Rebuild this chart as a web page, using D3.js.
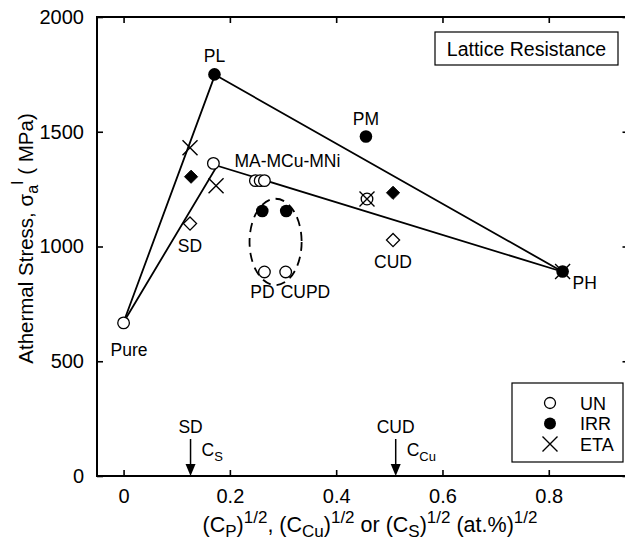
<!DOCTYPE html>
<html><head><meta charset="utf-8">
<script src="https://cdn.jsdelivr.net/npm/d3@7"></script>
<style>body{margin:0;background:#fff}svg{display:block;font-family:"Liberation Sans",Arial,Helvetica,sans-serif}</style>
</head><body><svg id="c" width="625" height="545"></svg>
<script>
// ---- data ----
const xTicks = [0, 0.2, 0.4, 0.6, 0.8];
const yTicks = [0, 500, 1000, 1500, 2000];
const lineHigh = [[0, 670], [0.172, 1748], [0.826, 890]];
const lineLow  = [[0, 670], [0.176, 1352], [0.826, 890]];
const unPoints  = [[0, 667], [0.169, 1362], [0.248, 1287], [0.257, 1287], [0.265, 1287], [0.265, 889], [0.305, 889], [0.458, 1207]];
const irrPoints = [[0.171, 1750], [0.261, 1155], [0.306, 1155], [0.456, 1479], [0.826, 891]];
const etaPoints = [[0.125, 1430], [0.174, 1265], [0.458, 1207], [0.826, 891]];
const irrDiamonds = [[0.127, 1304], [0.507, 1234]];
const unDiamonds  = [[0.125, 1100], [0.507, 1028]];
const pointLabels = [
  {t: "PL", x: 0.171, y: 1750, dx: 0, dy: -12, a: "middle"},
  {t: "PM", x: 0.456, y: 1479, dx: 0, dy: -12, a: "middle"},
  {t: "MA-MCu-MNi", x: 0.169, y: 1362, dx: 21, dy: 4, a: "start"},
  {t: "SD", x: 0.125, y: 1100, dx: 0, dy: 28, a: "middle"},
  {t: "CUD", x: 0.507, y: 1028, dx: 0, dy: 28, a: "middle"},
  {t: "PD", x: 0.265, y: 889, dx: -2, dy: 26, a: "middle"},
  {t: "CUPD", x: 0.305, y: 889, dx: -5, dy: 26, a: "start"},
  {t: "PH", x: 0.826, y: 891, dx: 10, dy: 17, a: "start"},
  {t: "Pure", x: 0, y: 667, dx: -13, dy: 33, a: "start"}
];
const arrows = [{label: "SD", sub: "S", x: 0.126}, {label: "CUD", sub: "Cu", x: 0.512}];
const ellipse = {cx: 0.286, cy: 1020, rx: 0.049, ry: 188};
const legendItems = ["UN", "IRR", "ETA"];

// ---- layout ----
const svg = d3.select("#c");
const L = 97, R = 628.5, T = 17, B = 476;
const x = d3.scaleLinear().domain([-0.05, 0.95]).range([L, R]);
const y = d3.scaleLinear().domain([0, 2000]).range([B, T]);
const FONT = "Liberation Sans, Arial, sans-serif";

// axes (ticks inward)
const tl = 6;
svg.append("g").attr("transform", `translate(0,${B})`)
  .call(d3.axisBottom(x).tickValues(xTicks).tickSize(-tl).tickPadding(tl + 7).tickFormat(d => d === 0 ? "0" : d3.format(".1f")(d)));
svg.append("g").attr("transform", `translate(0,${T})`)
  .call(d3.axisTop(x).tickValues(xTicks).tickSize(-tl).tickFormat(""));
svg.append("g").attr("transform", `translate(${L},0)`)
  .call(d3.axisLeft(y).tickValues(yTicks).tickSize(-tl).tickPadding(tl + 7).tickFormat(d3.format("d")));
svg.append("g").attr("transform", `translate(${R},0)`)
  .call(d3.axisRight(y).tickValues(yTicks).tickSize(-tl).tickFormat(""));
svg.selectAll(".domain").remove();
svg.selectAll(".tick line").attr("stroke", "#000").attr("stroke-width", 1.6);
svg.selectAll(".tick text").attr("font-size", 20).attr("fill", "#000").attr("font-family", FONT);
svg.append("rect").attr("x", L).attr("y", T).attr("width", R - L).attr("height", B - T)
  .attr("fill", "none").attr("stroke", "#000").attr("stroke-width", 2);

// lines
const lg = d3.line().x(d => x(d[0])).y(d => y(d[1]));
[lineHigh, lineLow].forEach(l => svg.append("path").attr("d", lg(l)).attr("fill", "none").attr("stroke", "#000").attr("stroke-width", 1.8));

// ellipse
svg.append("ellipse").attr("cx", x(ellipse.cx)).attr("cy", y(ellipse.cy))
  .attr("rx", x(ellipse.rx) - x(0)).attr("ry", y(0) - y(ellipse.ry))
  .attr("fill", "none").attr("stroke", "#000").attr("stroke-width", 1.8).attr("stroke-dasharray", "9,6");

// markers
const diamond = d3.symbol().type(d3.symbolDiamond2).size(110);
svg.selectAll(".ud").data(unDiamonds).join("path").attr("d", diamond)
  .attr("transform", d => `translate(${x(d[0])},${y(d[1])})`).attr("fill", "#fff").attr("stroke", "#000").attr("stroke-width", 1.3);
svg.selectAll(".id").data(irrDiamonds).join("path").attr("d", diamond)
  .attr("transform", d => `translate(${x(d[0])},${y(d[1])})`).attr("fill", "#000").attr("stroke", "#000").attr("stroke-width", 1);
svg.selectAll(".uc").data(unPoints).join("circle").attr("cx", d => x(d[0])).attr("cy", d => y(d[1])).attr("r", 5.8)
  .attr("fill", "#fff").attr("stroke", "#000").attr("stroke-width", 1.3);
svg.selectAll(".ic").data(irrPoints).join("circle").attr("cx", d => x(d[0])).attr("cy", d => y(d[1])).attr("r", 6.3)
  .attr("fill", "#000");
const cross = (g, cx, cy, s) => {
  g.append("path").attr("d", `M${cx - s},${cy - s}L${cx + s},${cy + s}M${cx - s},${cy + s}L${cx + s},${cy - s}`)
    .attr("stroke", "#000").attr("stroke-width", 1.4).attr("fill", "none");
};
etaPoints.forEach(d => cross(svg, x(d[0]), y(d[1]), 7.5));

// point labels
svg.selectAll(".pl").data(pointLabels).join("text")
  .attr("x", d => x(d.x) + d.dx).attr("y", d => y(d.y) + d.dy).attr("text-anchor", d => d.a)
  .attr("font-size", 17.5).text(d => d.t);

// arrows
arrows.forEach(a => {
  const ax = x(a.x);
  svg.append("line").attr("x1", ax).attr("x2", ax).attr("y1", B - 37).attr("y2", B - 8).attr("stroke", "#000").attr("stroke-width", 1.5);
  svg.append("path").attr("d", `M${ax - 5},${B - 12}L${ax + 5},${B - 12}L${ax},${B}Z`).attr("fill", "#000");
  svg.append("text").attr("x", ax).attr("y", B - 43).attr("text-anchor", "middle").attr("font-size", 17.5).text(a.label);
  const t = svg.append("text").attr("x", ax + 11).attr("y", B - 20).attr("font-size", 17.5);
  t.append("tspan").text("C");
  t.append("tspan").attr("dy", 5).attr("font-size", 13).text(a.sub);
});

// title box
svg.append("rect").attr("x", 435).attr("y", 32).attr("width", 183).attr("height", 33).attr("fill", "#fff").attr("stroke", "#000").attr("stroke-width", 1.2);
svg.append("text").attr("x", 526.5).attr("y", 56).attr("text-anchor", "middle").attr("font-size", 19.5).text("Lattice Resistance");

// legend
svg.append("rect").attr("x", 512).attr("y", 383).attr("width", 111).attr("height", 79).attr("fill", "#fff").attr("stroke", "#000").attr("stroke-width", 1.2);
legendItems.forEach((t, i) => {
  const ly = 403 + i * 20.5, lx = 550;
  if (i === 0) svg.append("circle").attr("cx", lx).attr("cy", ly).attr("r", 5.5).attr("fill", "#fff").attr("stroke", "#000").attr("stroke-width", 1.3);
  if (i === 1) svg.append("circle").attr("cx", lx).attr("cy", ly).attr("r", 6).attr("fill", "#000");
  if (i === 2) cross(svg, lx, ly, 7.5);
  svg.append("text").attr("x", 580).attr("y", ly + 6.5).attr("font-size", 18).text(t);
});

// y title
const yt = svg.append("text").attr("transform", `translate(33,${(T + B) / 2 - 8}) rotate(-90)`).attr("text-anchor", "middle").attr("font-size", 20.5);
yt.append("tspan").text("Athermal Stress, σ");
yt.append("tspan").attr("dy", 5).attr("font-size", 16).text("a");
yt.append("tspan").attr("dy", -15).attr("font-size", 16).text("I");
yt.append("tspan").attr("dy", 10).text(" ( MPa)");

// x title
const xt = svg.append("text").attr("x", 370).attr("y", 532).attr("text-anchor", "middle").attr("font-size", 21.5);
const parts = [["(C", 0], ["P", 1], [")", 0], ["1/2", 2], [", (C", 0], ["Cu", 1], [")", 0], ["1/2", 2], [" or (C", 0], ["S", 1], [")", 0], ["1/2", 2], [" (at.%)", 0], ["1/2", 2]];
let cur = 0;
parts.forEach(([s, k]) => {
  const target = k === 1 ? 5 : k === 2 ? -9 : 0;
  const sp = xt.append("tspan").attr("dy", target - cur).text(s);
  if (k) sp.attr("font-size", 17);
  cur = target;
});
</script></body></html>
